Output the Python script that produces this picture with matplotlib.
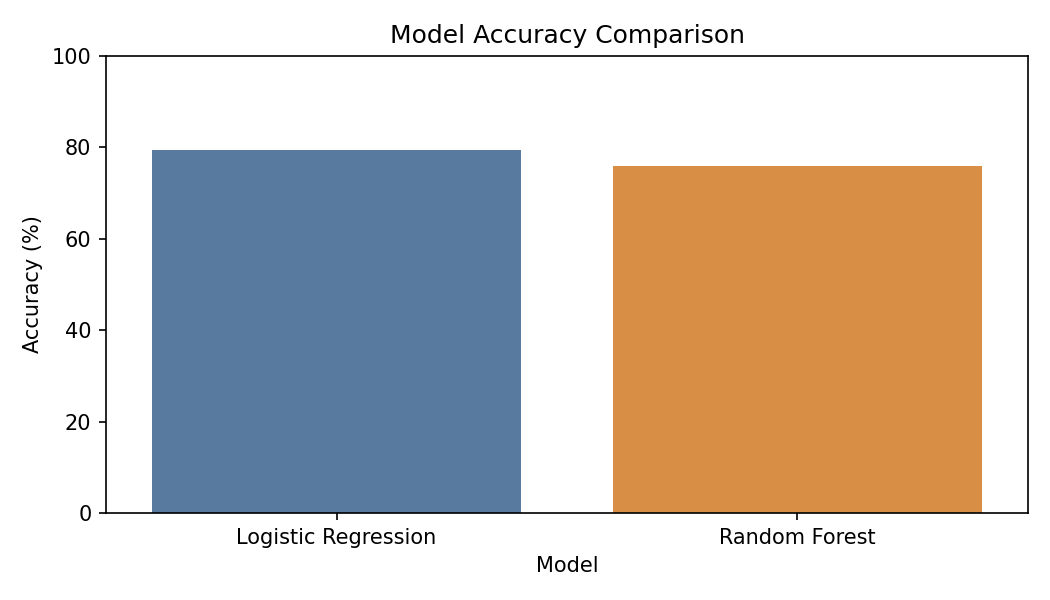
import matplotlib
matplotlib.use("Agg")
import matplotlib.pyplot as plt

models = ["Logistic Regression", "Random Forest"]
accuracy = [79.4, 75.9]
bar_colors = ["#587a9e", "#d98e46"]

fig, ax = plt.subplots(figsize=(7, 4), dpi=150)
ax.bar(models, accuracy, width=0.8, color=bar_colors)

ax.set_xlim(-0.5, len(models) - 0.5)
ax.set_ylim(0, 100)
ax.set_title("Model Accuracy Comparison")
ax.set_xlabel("Model")
ax.set_ylabel("Accuracy (%)")

fig.subplots_adjust(left=0.101, right=0.979, top=0.907, bottom=0.145)
fig.savefig("out.png", dpi=150)
